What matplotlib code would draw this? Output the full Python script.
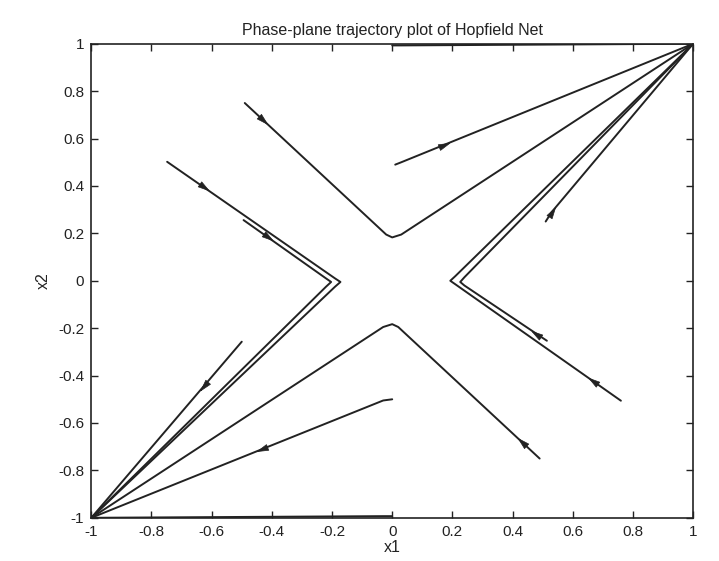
import matplotlib
matplotlib.use("Agg")
import matplotlib.pyplot as plt
import numpy as np

plt.rcParams['font.family'] = ['Liberation Sans', 'DejaVu Sans']

# trajectories, listed in the direction of flow (x1 values, x2 values)
traj_x = [
    [0.01, 0.03, 1.0],
    [-0.49, -0.02, 0.0, 0.03, 1.0],
    [0.51, 0.53, 1.0],
    [0.514, 0.24, 0.226, 0.24, 1.0],
    [0.76, 0.21, 0.193, 0.21, 1.0],
    [-0.748, -0.19, -0.172, -0.19, -1.0],
    [-0.494, -0.22, -0.203, -0.22, -1.0],
    [-0.50, -1.0],
    [0.49, 0.02, 0.0, -0.03, -1.0],
    [0.0, -0.03, -1.0],
    [0.0, 0.03, 1.0],
    [0.0, -0.03, -1.0],
]
traj_y = [
    [0.49, 0.50, 1.0],
    [0.75, 0.195, 0.183, 0.195, 1.0],
    [0.25, 0.29, 1.0],
    [-0.253, -0.02, -0.005, 0.015, 1.0],
    [-0.506, -0.015, 0.0, 0.02, 1.0],
    [0.502, 0.01, -0.005, -0.025, -1.0],
    [0.256, 0.01, -0.005, -0.025, -1.0],
    [-0.257, -1.0],
    [-0.75, -0.195, -0.183, -0.195, -1.0],
    [-0.50, -0.505, -1.0],
    [0.993, 0.993, 1.0],
    [-0.993, -0.993, -1.0],
]

# arrow heads: trajectory index, approximate position on it
arrow_idx = [0, 1, 2, 3, 4, 5, 6, 7, 8, 9]
arrow_x = [0.17, -0.43, 0.53, 0.478, 0.667, -0.625, -0.413, -0.625, 0.44, -0.43]
arrow_y = [0.575, 0.68, 0.29, -0.225, -0.422, 0.397, 0.186, -0.443, -0.675, -0.715]

ticks = [-1, -0.8, -0.6, -0.4, -0.2, 0, 0.2, 0.4, 0.6, 0.8, 1]
tick_labels = ['-1', '-0.8', '-0.6', '-0.4', '-0.2', '0', '0.2', '0.4', '0.6', '0.8', '1']

line_col = '#222222'

fig = plt.figure(figsize=(7.19, 5.61), dpi=100)
ax = fig.add_axes([0.127, 0.077, 0.837, 0.845])
ax.set_xlim(-1, 1)
ax.set_ylim(-1, 1)

for xs, ys in zip(traj_x, traj_y):
    ax.plot(xs, ys, color=line_col, lw=1.4, solid_capstyle='round')


def snap(xs, ys, px, py):
    # closest point on the trajectory and the direction of that segment
    best = None
    p = np.array([px, py])
    for i in range(len(xs) - 1):
        a = np.array([xs[i], ys[i]])
        b = np.array([xs[i + 1], ys[i + 1]])
        d = b - a
        t = np.clip(np.dot(p - a, d) / np.dot(d, d), 0, 1)
        q = a + t * d
        dist = np.linalg.norm(q - p)
        if best is None or dist < best[0]:
            best = (dist, q, d)
    return best[1], best[2]


# slim triangle, pointing along +x
head = np.array([[1.0, 0.0], [-1.0, 0.55], [-1.0, -0.55], [1.0, 0.0]])

for k, px, py in zip(arrow_idx, arrow_x, arrow_y):
    q, d = snap(traj_x[k], traj_y[k], px, py)
    p0 = ax.transData.transform(q)
    p1 = ax.transData.transform(q + d * 0.01)
    ang = np.arctan2(p1[1] - p0[1], p1[0] - p0[0])
    rot = np.array([[np.cos(ang), -np.sin(ang)], [np.sin(ang), np.cos(ang)]])
    verts = head @ rot.T
    ax.plot(q[0], q[1], marker=verts, markersize=9, color=line_col,
            markeredgewidth=0.5, linestyle='none')

ax.set_xticks(ticks)
ax.set_xticklabels(tick_labels)
ax.set_yticks(ticks)
ax.set_yticklabels(tick_labels)
ax.tick_params(direction='in', top=True, right=True, length=5, width=1,
               labelsize=11, colors='#222222', pad=5)
for s in ax.spines.values():
    s.set_linewidth(1.2)
    s.set_color('#222222')

ax.set_title('Phase-plane trajectory plot of Hopfield Net', fontsize=11.5, pad=6, color='#222222')
ax.set_xlabel('x1', fontsize=11.5, labelpad=1, color='#222222')
ax.set_ylabel('x2', fontsize=11.5, labelpad=5, color='#222222')

fig.savefig('out.png', dpi=100)
